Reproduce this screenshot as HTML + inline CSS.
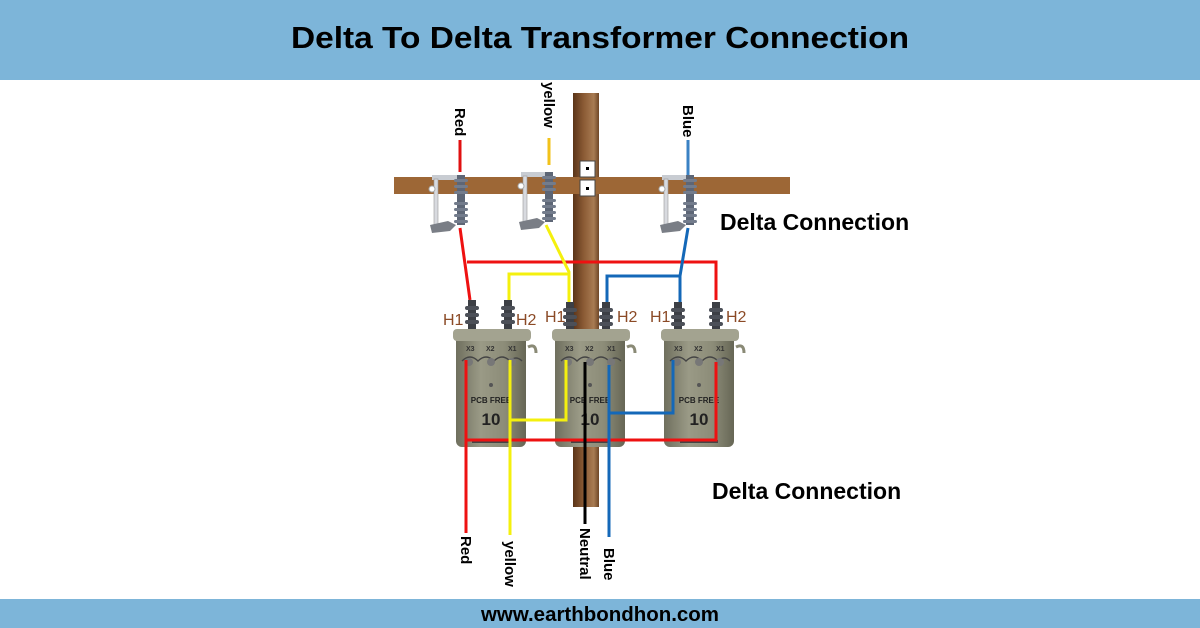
<!DOCTYPE html>
<html><head><meta charset="utf-8"><style>
html,body{margin:0;padding:0;background:#fff}
svg{display:block}
text{font-family:"Liberation Sans",sans-serif}
</style></head><body>
<svg width="1200" height="628" viewBox="0 0 1200 628" xmlns="http://www.w3.org/2000/svg">
<defs>
<linearGradient id="pole" x1="0" x2="1">
<stop offset="0" stop-color="#5a3418"/><stop offset="0.4" stop-color="#8a5a34"/><stop offset="0.8" stop-color="#a87b52"/><stop offset="1" stop-color="#6e4626"/>
</linearGradient>
<linearGradient id="tank" x1="0" x2="1">
<stop offset="0" stop-color="#6f6f5e"/><stop offset="0.35" stop-color="#9a9a86"/><stop offset="0.7" stop-color="#8c8c78"/><stop offset="1" stop-color="#666655"/>
</linearGradient>
<g id="ins">
<rect x="-4" y="0" width="8" height="50" fill="#5d6676"/>
<rect x="-7" y="4" width="14" height="3" rx="1.5" fill="#737c8c"/>
<rect x="-7" y="10" width="14" height="3" rx="1.5" fill="#737c8c"/>
<rect x="-7" y="16" width="14" height="3" rx="1.5" fill="#737c8c"/>
<rect x="-7" y="27" width="14" height="3" rx="1.5" fill="#737c8c"/>
<rect x="-7" y="33" width="14" height="3" rx="1.5" fill="#737c8c"/>
<rect x="-7" y="39" width="14" height="3" rx="1.5" fill="#737c8c"/>
<rect x="-7" y="45" width="14" height="3" rx="1.5" fill="#737c8c"/>
</g>
<g id="cut">
<rect x="-26" y="0" width="26" height="5" fill="#c8ccd2"/>
<rect x="-24" y="4" width="4" height="48" fill="#d8dadf" stroke="#999" stroke-width="0.6"/>
<path d="M-28 50 l18 -4 l8 4 l-6 6 l-18 2z" fill="#7a7e86"/>
<circle cx="-26" cy="14" r="3" fill="#fff" stroke="#aaa"/>
</g>
<g id="bush">
<rect x="-4" y="0" width="8" height="30" fill="#3c3f45"/>
<rect x="-7" y="6" width="14" height="4" rx="2" fill="#4c5058"/>
<rect x="-7" y="13" width="14" height="4" rx="2" fill="#4c5058"/>
<rect x="-7" y="20" width="14" height="4" rx="2" fill="#4c5058"/>
</g>
<g id="tx">
<rect x="0" y="10" width="70" height="112" rx="6" fill="url(#tank)"/>
<rect x="-3" y="4" width="78" height="12" rx="4" fill="#a3a390"/>
<path d="M72 22 q8 -4 8 6" stroke="#8a8a76" stroke-width="3" fill="none"/>
<text x="10" y="26" font-size="7" font-weight="bold" fill="#333">X3</text>
<text x="30" y="26" font-size="7" font-weight="bold" fill="#333">X2</text>
<text x="52" y="26" font-size="7" font-weight="bold" fill="#333">X1</text>
<path d="M6 36 q8 -8 16 0 q8 -8 16 0 q8 -8 16 0 q6 -6 12 0" stroke="#444" stroke-width="1.5" fill="none"/>
<circle cx="13" cy="37" r="4" fill="#777"/><circle cx="35" cy="37" r="4" fill="#777"/><circle cx="56" cy="37" r="4" fill="#777"/>
<circle cx="35" cy="60" r="2" fill="#555"/>
<text x="35" y="78" font-size="8" font-weight="bold" fill="#222" text-anchor="middle">PCB FREE</text>
<text x="35" y="100" font-size="17" font-weight="bold" fill="#222" text-anchor="middle">10</text>
<rect x="16" y="115" width="38" height="3" fill="#444"/>
</g>
</defs>

<rect x="0" y="0" width="1200" height="80" fill="#7db5d9"/>
<text x="600" y="48" font-size="31" font-weight="bold" text-anchor="middle" textLength="618" lengthAdjust="spacingAndGlyphs">Delta To Delta Transformer Connection</text>
<rect x="0" y="599" width="1200" height="29" fill="#7db5d9"/>
<text x="600" y="621" font-size="20" font-weight="bold" text-anchor="middle" textLength="238" lengthAdjust="spacingAndGlyphs">www.earthbondhon.com</text>

<rect x="573" y="93" width="26" height="414" fill="url(#pole)"/>
<rect x="394" y="177" width="396" height="17" fill="#9d6736"/>
<rect x="580" y="161" width="15" height="16" fill="#fff" stroke="#444" stroke-width="1"/>
<rect x="580" y="180" width="15" height="16" fill="#fff" stroke="#444" stroke-width="1"/>
<rect x="586" y="167" width="3" height="3" fill="#000"/><rect x="586" y="187" width="3" height="3" fill="#000"/>

<use href="#cut" x="458" y="175"/><use href="#ins" x="461" y="175"/>
<use href="#cut" x="547" y="172"/><use href="#ins" x="549" y="172"/>
<use href="#cut" x="688" y="175"/><use href="#ins" x="690" y="175"/>

<g fill="none" stroke-width="3">
<path d="M460 140 V172" stroke="#e01010"/>
<path d="M549 138 V165" stroke="#f2c21a"/>
<path d="M688 140 V175" stroke="#3a82c4"/>
<path d="M460 228 L470 300 M467 262 H716 V300" stroke="#ee1111"/>
<path d="M546 225 L569 272 V305 M569 274 H509 V305" stroke="#f4f00e"/>
<path d="M688 228 L680 276 V305 M680 276 H607 V308" stroke="#1468b8"/>
</g>

<use href="#bush" x="472" y="300"/><use href="#bush" x="508" y="300"/>
<use href="#bush" x="570" y="302"/><use href="#bush" x="606" y="302"/>
<use href="#bush" x="678" y="302"/><use href="#bush" x="716" y="302"/>
<use href="#tx" x="456" y="325"/>
<use href="#tx" x="555" y="325"/>
<use href="#tx" x="664" y="325"/>

<g font-size="16" fill="#8b4a26">
<text x="443" y="325">H1</text><text x="516" y="325">H2</text>
<text x="545" y="322">H1</text><text x="617" y="322">H2</text>
<text x="650" y="322">H1</text><text x="726" y="322">H2</text>
</g>

<g fill="none" stroke-width="3">
<path d="M466 360 V533 M466 440 H716 V362" stroke="#ee1111"/>
<path d="M510 360 V535 M510 420 H566 V360" stroke="#f4f00e"/>
<path d="M585 362 V524" stroke="#000"/>
<path d="M609 365 V537 M609 413 H673 V360" stroke="#1468b8"/>
</g>

<g font-size="15" font-weight="bold" fill="#000">
<text transform="translate(455,108) rotate(90)">Red</text>
<text transform="translate(544,82) rotate(90)">yellow</text>
<text transform="translate(683,105) rotate(90)">Blue</text>
<text transform="translate(461,536) rotate(90)">Red</text>
<text transform="translate(505,541) rotate(90)">yellow</text>
<text transform="translate(580,528) rotate(90)">Neutral</text>
<text transform="translate(604,548) rotate(90)">Blue</text>
</g>
<text x="720" y="230" font-size="23" font-weight="bold">Delta Connection</text>
<text x="712" y="499" font-size="23" font-weight="bold">Delta Connection</text>
</svg>
</body></html>
